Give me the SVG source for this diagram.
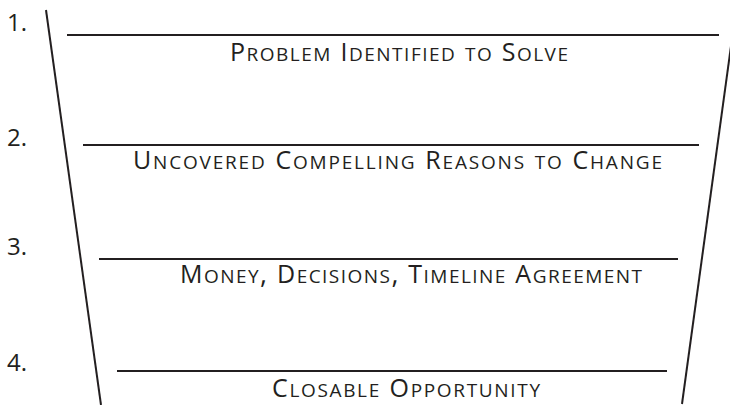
<svg xmlns="http://www.w3.org/2000/svg" width="730" height="405" viewBox="0 0 730 405">
  <style>
    .edge { stroke: #231f20; stroke-width: 2; fill: none; stroke-linecap: butt; }
    .num { font-family: "Open Sans", "Liberation Sans", sans-serif; font-size: 24px; fill: #231f20; }
    .lbl { font-family: "Open Sans", "Liberation Sans", sans-serif; font-size: 27px; font-variant: small-caps; fill: #231f20; }
    .c { font-size: 25px; }
  </style>
  <rect width="730" height="405" fill="#ffffff"/>
  <g id="funnel">
    <line class="edge" x1="46" y1="10" x2="101" y2="405"/>
    <line class="edge" x1="731" y1="46" x2="682" y2="404"/>
  </g>
  <g id="stage1">
    <text class="num" x="7" y="31">1.</text>
    <line class="edge" x1="67" y1="35" x2="719" y2="35"/>
    <text class="lbl" x="230" y="61" textLength="338" lengthAdjust="spacing"><tspan class="c">P</tspan>roblem <tspan class="c">I</tspan>dentified to <tspan class="c">S</tspan>olve</text>
  </g>
  <g id="stage2">
    <text class="num" x="7" y="146">2.</text>
    <line class="edge" x1="83" y1="145" x2="699" y2="145"/>
    <text class="lbl" x="133" y="169" textLength="529" lengthAdjust="spacing"><tspan class="c">U</tspan>ncovered <tspan class="c">C</tspan>ompelling <tspan class="c">R</tspan>easons to <tspan class="c">C</tspan>hange</text>
  </g>
  <g id="stage3">
    <text class="num" x="7" y="255">3.</text>
    <line class="edge" x1="99" y1="259" x2="678" y2="259"/>
    <text class="lbl" x="180" y="283" textLength="462" lengthAdjust="spacing"><tspan class="c">M</tspan>oney, <tspan class="c">D</tspan>ecisions, <tspan class="c">T</tspan>imeline <tspan class="c">A</tspan>greement</text>
  </g>
  <g id="stage4">
    <text class="num" x="7" y="371">4.</text>
    <line class="edge" x1="117" y1="371" x2="667" y2="371"/>
    <text class="lbl" x="272" y="397" textLength="268" lengthAdjust="spacing"><tspan class="c">C</tspan>losable <tspan class="c">O</tspan>pportunity</text>
  </g>
</svg>
